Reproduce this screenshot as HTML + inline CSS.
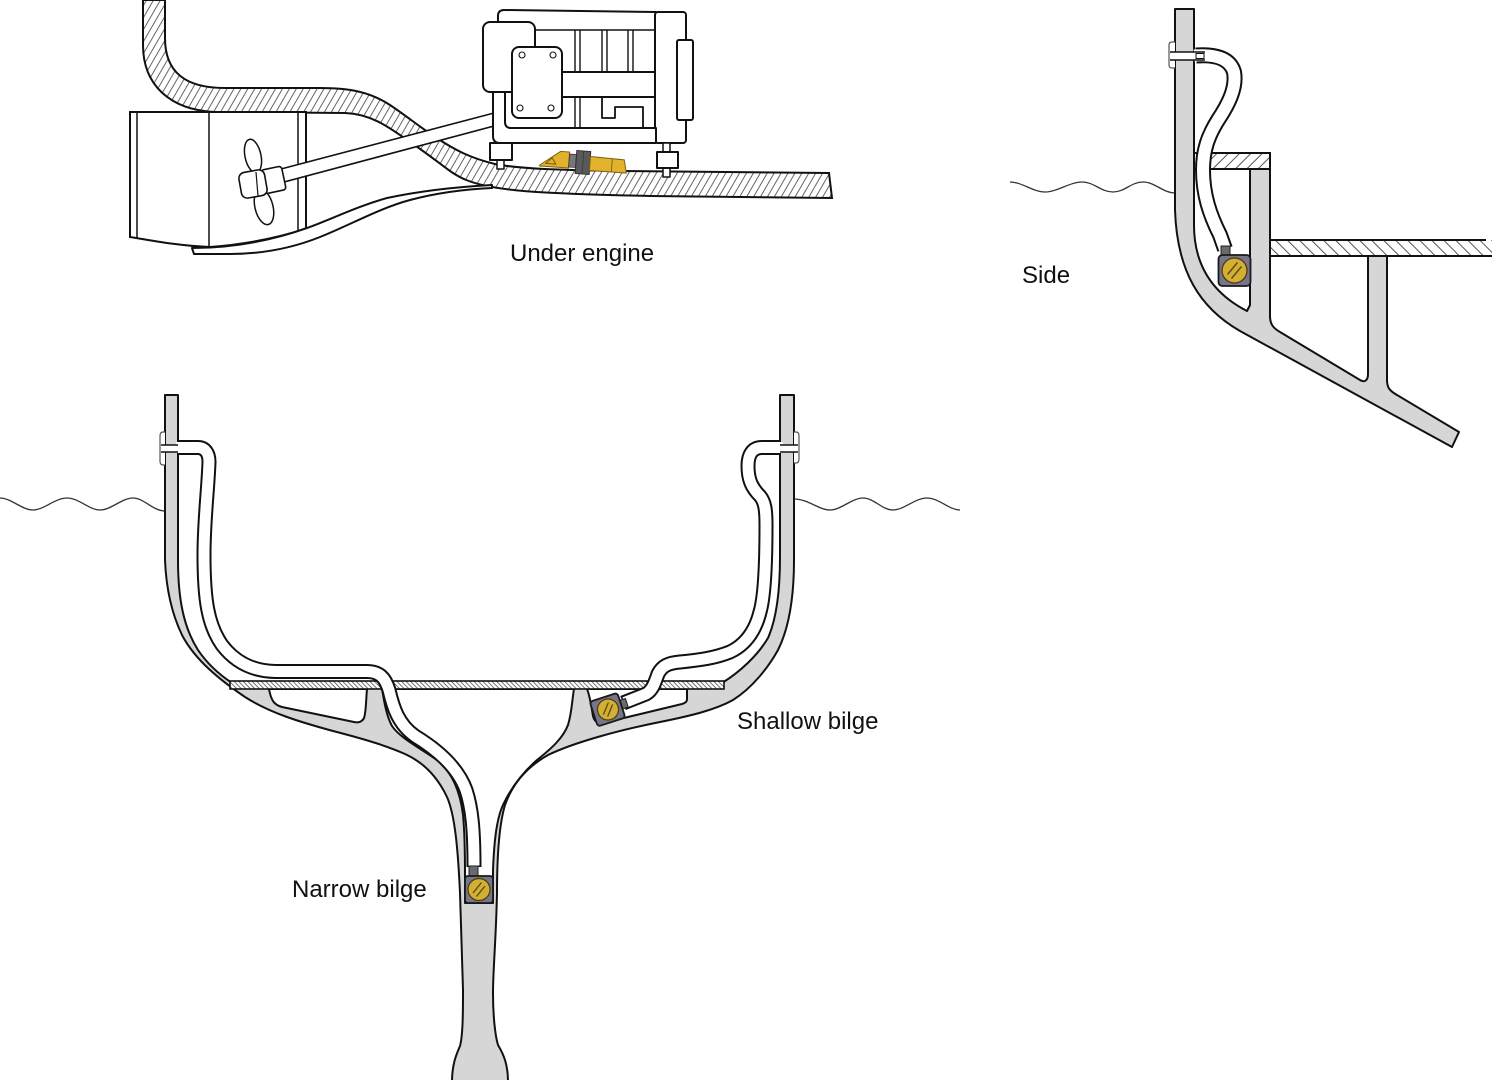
<!DOCTYPE html>
<html><head><meta charset="utf-8">
<style>
html,body{margin:0;padding:0;background:#fff;}
svg{display:block;}
text{font-family:"Liberation Sans",Arial,sans-serif;font-size:24px;fill:#111;}
</style></head><body>
<svg width="1492" height="1080" viewBox="0 0 1492 1080" xmlns="http://www.w3.org/2000/svg">
<defs>
<pattern id="hE" patternUnits="userSpaceOnUse" width="6" height="10" patternTransform="rotate(30)"><rect width="6" height="10" fill="#fff"/><line x1="1" y1="0" x2="1" y2="10" stroke="#555" stroke-width="0.9"/></pattern>
<pattern id="hF" patternUnits="userSpaceOnUse" width="3.2" height="10" patternTransform="rotate(-45)"><rect width="3.2" height="10" fill="#fff"/><line x1="0.5" y1="0" x2="0.5" y2="10" stroke="#555" stroke-width="0.8"/></pattern>
<pattern id="hS1" patternUnits="userSpaceOnUse" width="8" height="10" patternTransform="rotate(45)"><rect width="8" height="10" fill="#fff"/><line x1="1" y1="0" x2="1" y2="10" stroke="#555" stroke-width="1"/></pattern>
<pattern id="hS2" patternUnits="userSpaceOnUse" width="8.5" height="10" patternTransform="rotate(-45)"><rect width="8.5" height="10" fill="#fff"/><line x1="1" y1="0" x2="1" y2="10" stroke="#555" stroke-width="1"/></pattern>
</defs>
<rect width="1492" height="1080" fill="#fff"/>

<!-- ================= UNDER ENGINE ================= -->
<path d="M165,0 V38 C165,72 185,88 225,88 L320,88 C350,88 370,92 390,105 C405,115 420,127 435,137 C455,150 470,158 495,164 C520,169 560,170 620,171 L829,173 L832,198 L650,196 C560,194 520,192 492,187 C470,183 460,178 450,171 C435,160 425,152 410,142 C390,128 372,114 345,113 L215,112 C170,110 143,85 143,45 V0 Z" fill="url(#hE)" stroke="#111" stroke-width="2"/>

<!-- drive housing box -->
<path d="M130,112 H306 V229 C280,237 250,244 210,247 C180,246 155,241 130,237 Z" fill="#fff" stroke="#111" stroke-width="2"/>
<line x1="137" y1="112" x2="137" y2="238" stroke="#111" stroke-width="1.5"/>
<line x1="209" y1="112" x2="209" y2="247" stroke="#111" stroke-width="1.5"/>
<line x1="298" y1="112" x2="298" y2="232" stroke="#111" stroke-width="1.5"/>
<!-- skeg -->
<path d="M192,248 C230,248 270,241 307,228 C330,220 355,207 387,198 C420,191 455,187 492,185 L492,188 C470,189 440,192 410,200 C380,208 350,225 320,237 C290,249 260,254 230,254 L194,254 Z" fill="#fff" stroke="#111" stroke-width="2" stroke-linejoin="round"/>

<!-- propeller -->
<ellipse cx="253" cy="156" rx="8" ry="17" transform="rotate(-12 253 156)" fill="#fff" stroke="#111" stroke-width="1.5"/>
<ellipse cx="264" cy="207" rx="9" ry="18" transform="rotate(-14 264 207)" fill="#fff" stroke="#111" stroke-width="1.5"/>
<!-- shaft -->
<path d="M281,169 L494,113 L494,126 L284,182 Z" fill="#fff" stroke="#111" stroke-width="1.6"/>
<rect x="263" y="168" width="21" height="24" rx="3" transform="rotate(-12 273 180)" fill="#fff" stroke="#111" stroke-width="1.6"/>
<rect x="240" y="171" width="26" height="26" rx="6" transform="rotate(-10 253 184)" fill="#fff" stroke="#111" stroke-width="1.6"/>
<line x1="256" y1="172" x2="258" y2="196" stroke="#111" stroke-width="1.2"/>

<!-- engine -->
<g stroke="#111" stroke-width="2" fill="#fff" stroke-linejoin="round">
 <path d="M498,92 V16 Q498,10 504,10 L656,12 V128 H505 Z"/>
 <line x1="535" y1="30" x2="655" y2="30" stroke-width="1.6"/>
 <g stroke-width="1.4">
  <line x1="575" y1="30" x2="575" y2="72"/><line x1="580" y1="30" x2="580" y2="72"/>
  <line x1="602" y1="30" x2="602" y2="72"/><line x1="607" y1="30" x2="607" y2="72"/>
  <line x1="628" y1="30" x2="628" y2="72"/><line x1="633" y1="30" x2="633" y2="72"/>
  <line x1="575" y1="97" x2="575" y2="128"/><line x1="580" y1="97" x2="580" y2="128"/>
 </g>
 <path d="M602,97 V118 H615 V107 H643 V128" fill="none" stroke-width="1.8"/>
 <rect x="655" y="12" width="31" height="131" rx="3"/>
 <path d="M493,90 V136 Q493,143 500,143 H656 V128 H511 Q505,128 505,122 V90 Z"/>
 <rect x="483" y="22" width="52" height="70" rx="7"/>
 <rect x="562" y="72" width="93" height="25"/>
 <rect x="512" y="47" width="50" height="71" rx="7"/>
 <g stroke-width="1.1">
  <circle cx="522" cy="55" r="3"/><circle cx="553" cy="55" r="3"/>
  <circle cx="520" cy="108" r="3"/><circle cx="551" cy="108" r="3"/>
 </g>
 <rect x="677" y="40" width="16" height="80" rx="2"/>
 <rect x="497" y="159" width="7" height="10" stroke-width="1.5"/>
 <rect x="490" y="143" width="22" height="17"/>
 <rect x="663" y="143" width="7" height="34" stroke-width="1.5"/>
 <rect x="657" y="152" width="21" height="16"/>
</g>

<!-- under-engine sensor -->
<g transform="rotate(4 583 162)">
 <polygon points="540,168 560,153 569,153 569,169 540,169" fill="#e2b22c" stroke="#7d6010" stroke-width="1"/>
 <polygon points="546,166 552,160 556,166" fill="none" stroke="#6b520c" stroke-width="0.9"/>
 <rect x="569" y="155" width="7" height="13" fill="#777" stroke="#333" stroke-width="0.8"/>
 <rect x="576" y="151" width="14" height="23" fill="#5a5a5a" stroke="#2a2a2a" stroke-width="0.9"/>
 <line x1="583" y1="151" x2="583" y2="174" stroke="#3a3a3a" stroke-width="0.8"/>
 <polygon points="590,156 624,157 627,170 590,170" fill="#e2b22c" stroke="#7d6010" stroke-width="1"/>
 <line x1="612" y1="157" x2="612" y2="170" stroke="#7d6010" stroke-width="0.9"/>
</g>

<text x="510" y="261">Under engine</text>

<!-- ================= SIDE ================= -->
<path d="M1010,182 C1022,182 1033,192 1045,192 S1070,182 1082,182 S1101,192 1113,192 S1131,182 1143,182 S1163,193 1175,193" fill="none" stroke="#333" stroke-width="1.3"/>
<path d="M1175,9 H1194 V225 C1194,262 1210,292 1247,311 L1250,305 V169 H1270 V316 C1270,324 1273,328 1280,332 L1360,380 C1365,383 1368,380 1368,374 V256 H1387 V380 C1387,388 1390,391 1397,395 L1459,432 L1452,447 L1240,331 C1200,308 1177,272 1175,210 Z" fill="#d6d6d6" stroke="#111" stroke-width="2" stroke-linejoin="round"/>
<rect x="1194" y="153" width="76" height="16" fill="url(#hS1)" stroke="#111" stroke-width="2"/>
<rect x="1270" y="240" width="222" height="16" fill="url(#hS2)"/>
<path d="M1486,240 H1270 V256 H1492" fill="none" stroke="#111" stroke-width="2"/>
<!-- side hose -->
<path d="M1196,55.5 C1215,54 1230,58 1234,72 C1237,88 1228,105 1218,120 C1208,136 1203,150 1203,170 C1203,195 1210,215 1220,235 L1225,249" fill="none" stroke="#111" stroke-width="16"/>
<path d="M1194,55.5 C1215,54 1230,58 1234,72 C1237,88 1228,105 1218,120 C1208,136 1203,150 1203,170 C1203,195 1210,215 1220,235 L1225.3,250" fill="none" stroke="#fff" stroke-width="12"/>
<!-- side strap -->
<path d="M1175,42 H1172 Q1169,42 1169,45 V65 Q1169,68 1172,68 H1175" fill="#fff" stroke="#555" stroke-width="1.2"/>
<rect x="1174" y="52" width="21" height="8" fill="#fff"/>
<line x1="1170" y1="52" x2="1205" y2="52" stroke="#111" stroke-width="1.5"/>
<line x1="1170" y1="60" x2="1205" y2="60" stroke="#111" stroke-width="1.5"/>
<rect x="1196" y="53.5" width="8" height="5" fill="#fff" stroke="#111" stroke-width="1"/>
<!-- side sensor -->
<rect x="1221" y="246" width="9" height="10" fill="#6a6a6a" stroke="#222" stroke-width="1"/>
<g transform="translate(1234.5 270.5)">
 <rect x="-16" y="-15.5" width="32" height="31" rx="4" fill="#77758a" stroke="#1a1a1a" stroke-width="1.8"/>
 <circle r="12.5" fill="#d3af36" stroke="#4a3c0a" stroke-width="1.3"/>
 <line x1="-7" y1="4" x2="3" y2="-8" stroke="#5a4a12" stroke-width="1.4"/>
 <line x1="-3" y1="8" x2="7" y2="-4" stroke="#5a4a12" stroke-width="1.4"/>
</g>
<text x="1022" y="283">Side</text>

<!-- ================= BILGE ================= -->
<path d="M0,498 C11,498 22,510 33,510 S55,498 67,498 S89,510 100,510 S122,498 133,498 S153,511 165,511" fill="none" stroke="#333" stroke-width="1.3"/>
<path d="M794,499 C808,499 819,510 830,510 S852,498 863,498 S882,510 893,510 S915,498 927,498 S949,510 960,510" fill="none" stroke="#333" stroke-width="1.3"/>

<path d="M165,395 H178 V560 C178,600 184,628 198,650 C208,665 220,675 232,683 L722,683 C740,672 758,655 768,638 C776,620 780,595 780,557 V395 H794 V560 C794,600 788,630 778,650 C768,668 752,688 733,700 C715,710 690,716 660,722 C620,730 575,742 548,755 C525,768 512,785 505,805 C499,825 497,860 497,893 C496,940 493,970 493,993 C493,1015 495,1035 498,1045 C504,1055 508,1065 508,1082 H452 C452,1065 456,1055 460,1046 C463,1035 463,1010 463,990 C462,950 461,920 460,893 C458,850 455,815 447,797 C438,778 425,763 405,754 C385,745 360,738 333,731 C300,722 270,713 245,697 C220,680 195,660 182,635 C170,610 166,585 165,560 Z" fill="#d6d6d6" stroke="#111" stroke-width="2" stroke-linejoin="round"/>

<!-- voids -->
<g fill="#fff" stroke="#111" stroke-width="2" stroke-linejoin="round">
 <path d="M268,689 H367 C366,700 366,713 364,718 C362,722 358,723 354,722 L282,707 C274,705 271,700 269,689 Z"/>
 <path d="M382,689 C384,700 386,715 392,726 C400,738 420,748 437,760 C452,772 460,790 463,815 C465,835 465,855 465,875 V903 H493 V870 C494,845 496,820 503,805 C510,790 520,775 537,760 C552,748 563,738 568,725 C572,712 572,700 574,689 Z"/>
 <path d="M587,689 H687 V699 C687,702 685,703 682,704 L603,723 C598,724 594,721 593,716 C591,705 590,696 587,689 Z"/>
</g>
<!-- floor -->
<rect x="230" y="681" width="494" height="8" fill="url(#hF)" stroke="#111" stroke-width="1.6"/>

<!-- left hose -->
<path d="M178,447.5 L198,447.5 C205,447.5 209,453 209,462 C208,490 204,520 204,555 C204,600 208,625 222,645 C235,662 252,671 275,671.5 L367,671.5 C379,671.5 385,677 389,690 C393,707 398,724 415,736 C438,750 458,768 466,790 C472,808 474,830 474,867" fill="none" stroke="#111" stroke-width="15"/>
<path d="M176,447.5 L198,447.5 C205,447.5 209,453 209,462 C208,490 204,520 204,555 C204,600 208,625 222,645 C235,662 252,671 275,671.5 L367,671.5 C379,671.5 385,677 389,690 C393,707 398,724 415,736 C438,750 458,768 466,790 C472,808 474,830 474,865.5" fill="none" stroke="#fff" stroke-width="11"/>
<!-- right hose -->
<path d="M781,447.5 L762,447.5 C752,447.5 748,455 748,466 C748,480 752,488 760,496 C765,502 766,510 766,525 C766,560 765,595 760,612 C755,632 745,645 730,652 C715,658 700,660 680,662 C668,663 662,666 658,674 C655,682 653,690 646,694 L623,703" fill="none" stroke="#111" stroke-width="15"/>
<path d="M783,447.5 L762,447.5 C752,447.5 748,455 748,466 C748,480 752,488 760,496 C765,502 766,510 766,525 C766,560 765,595 760,612 C755,632 745,645 730,652 C715,658 700,660 680,662 C668,663 662,666 658,674 C655,682 653,690 646,694 L624.5,702.5" fill="none" stroke="#fff" stroke-width="11"/>

<!-- straps -->
<path d="M165,432 H163 Q160,432 160,436 V461 Q160,465 163,465 H165" fill="#fff" stroke="#555" stroke-width="1.2"/>
<rect x="164" y="445" width="15" height="7" fill="#fff"/>
<line x1="161" y1="445" x2="178" y2="445" stroke="#111" stroke-width="1.5"/>
<line x1="161" y1="452" x2="178" y2="452" stroke="#111" stroke-width="1.5"/>
<path d="M794,432 H796 Q799,432 799,436 V459 Q799,463 796,463 H794" fill="#fff" stroke="#555" stroke-width="1.2"/>
<rect x="779" y="445" width="16" height="7" fill="#fff"/>
<line x1="780" y1="445" x2="798" y2="445" stroke="#111" stroke-width="1.5"/>
<line x1="780" y1="452" x2="798" y2="452" stroke="#111" stroke-width="1.5"/>

<!-- narrow sensor -->
<rect x="469" y="866" width="9" height="11" fill="#6a6a6a" stroke="#222" stroke-width="1"/>
<g transform="translate(479 889.5)">
 <rect x="-14" y="-13.5" width="28" height="27" rx="3" fill="#77758a" stroke="#1a1a1a" stroke-width="1.8"/>
 <circle r="11" fill="#d3af36" stroke="#4a3c0a" stroke-width="1.2"/>
 <line x1="-6" y1="3.5" x2="2.5" y2="-7" stroke="#5a4a12" stroke-width="1.3"/>
 <line x1="-2.5" y1="7" x2="6" y2="-3.5" stroke="#5a4a12" stroke-width="1.3"/>
</g>
<!-- shallow sensor -->
<g transform="translate(608 709.5) rotate(-18)">
 <rect x="13" y="-5" width="7" height="9" fill="#6a6a6a" stroke="#222" stroke-width="1"/>
 <rect x="-15" y="-13" width="29" height="26" rx="3" fill="#77758a" stroke="#1a1a1a" stroke-width="1.8"/>
 <circle r="10.5" fill="#d3af36" stroke="#4a3c0a" stroke-width="1.2"/>
 <line x1="-6" y1="3.5" x2="2.5" y2="-6.5" stroke="#5a4a12" stroke-width="1.3"/>
 <line x1="-2.5" y1="6.5" x2="6" y2="-3.5" stroke="#5a4a12" stroke-width="1.3"/>
</g>

<text x="737" y="729">Shallow bilge</text>
<text x="292" y="897">Narrow bilge</text>
</svg>
</body></html>
